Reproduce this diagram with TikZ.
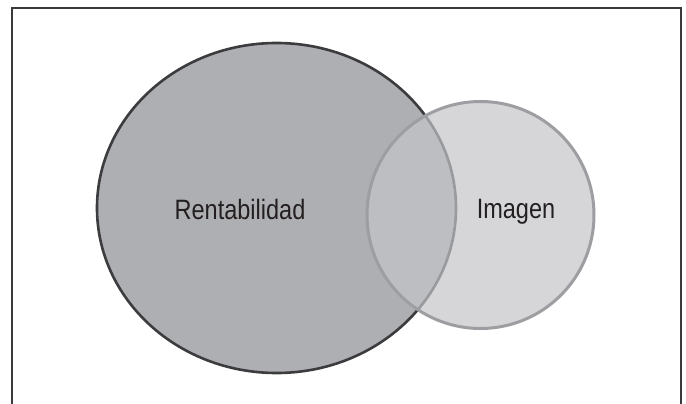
\documentclass[tikz,border=0pt]{standalone}
\usepackage{fontspec}
\newfontfamily\condfont[FakeStretch=0.84]{Liberation Sans}
\definecolor{framec}{HTML}{3A3A3C}
\definecolor{bigfill}{HTML}{AEAFB2}
\definecolor{bigline}{HTML}{3C3C3E}
\definecolor{smallfill}{HTML}{C4C5C8}
\definecolor{smallline}{HTML}{9D9EA2}
\definecolor{textc}{HTML}{231F20}
\tikzset{
  framestyle/.style={draw=framec, line width=2pt},
  bigset/.style={fill=bigfill, draw=bigline, line width=2.6pt},
  smallset/.style={fill=smallfill, fill opacity=0.69, draw=smallline, line width=3pt},
  setlabel/.style={font=\condfont\fontsize{28}{30}\selectfont, text=textc, anchor=base, inner sep=0pt, text opacity=1}
}
\begin{document}
\begin{tikzpicture}[x=1pt,y=-1pt]
\useasboundingbox (0,0) rectangle (686,404);
\fill[white] (0,0) rectangle (686,404);
\draw[framestyle] (12,406) coordinate (fbl) -- (12,8) coordinate (ftl) -- (680.5,8) coordinate (ftr) -- (680.5,406) coordinate (fbr);
\path[bigset] (276.5,208) ellipse [x radius=179.5, y radius=165];
\path[smallset] (480.5,215) circle [radius=113.5];
\node[setlabel] (rent) at (240,219) {Rentabilidad};
\node[setlabel] (imag) at (516,218) {Imagen};
\end{tikzpicture}
\end{document}
